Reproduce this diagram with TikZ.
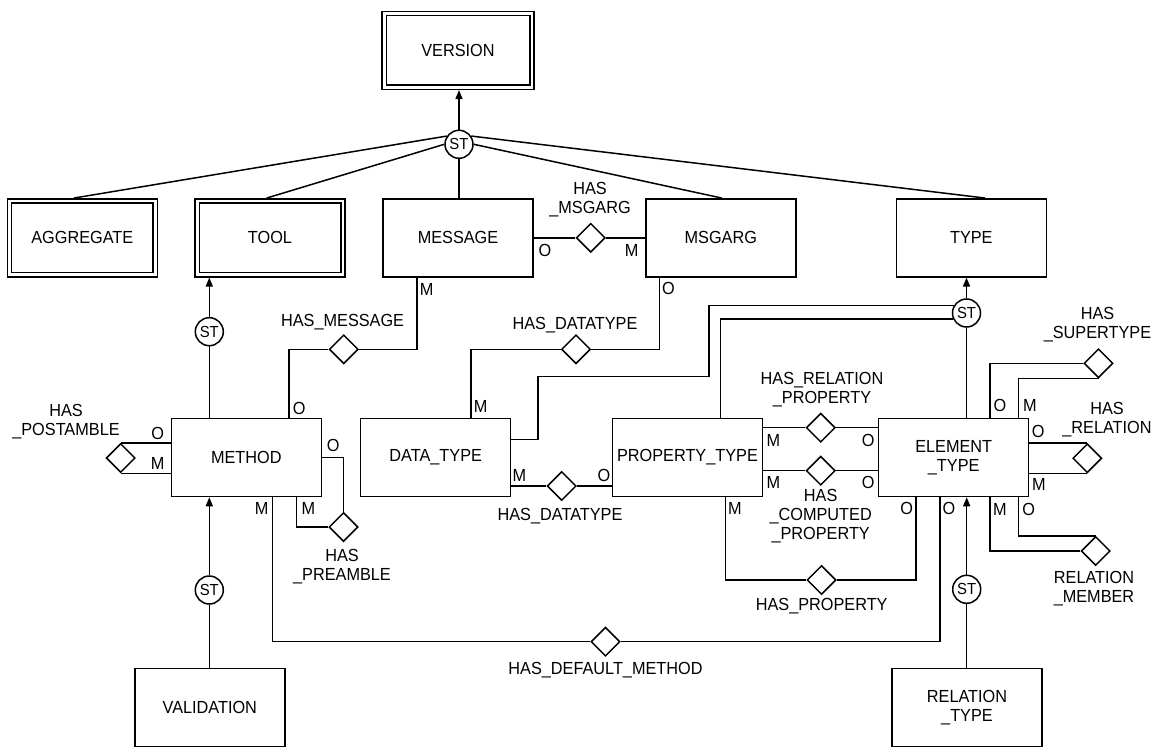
\documentclass[tikz,border=0pt]{standalone}
\usepackage{fontspec}
\setmainfont{Liberation Sans}[FakeStretch=0.93]
\usetikzlibrary{shapes.geometric,arrows.meta,calc}
\begin{document}
\begin{tikzpicture}[x=1pt,y=-1pt,
  every node/.style={font=\fontsize{17.5}{19}\selectfont},
  ent/.style={draw, line width=1.5pt, minimum width=150pt, minimum height=78pt, inner sep=0pt, align=center},
  rel/.style={draw, line width=1.5pt, diamond, aspect=1, minimum width=29pt, minimum height=29pt, inner sep=0pt},
  st/.style={draw, line width=1.5pt, circle, minimum size=28pt, inner sep=0pt, font=\fontsize{16}{18}\selectfont},
  lbl/.style={inner sep=0pt, align=center},
  conn/.style={line width=1.5pt},
  inner/.style={line width=1.5pt},
  isa/.style={line width=1.5pt, -{Triangle[width=7pt,length=9pt]}}
]
\useasboundingbox (0,0) rectangle (1157,749);

% entities
\node[ent, minimum width=152pt] (version) at (458,50.3) {VERSION};
\node[ent] (agg) at (82.3,237.8) {AGGREGATE};
\node[ent] (tool) at (270,237.8) {TOOL};
\node[ent] (message) at (458,237.8) {MESSAGE};
\node[ent] (msgarg) at (720.8,237.8) {MSGARG};
\node[ent] (type) at (971.3,237.8) {TYPE};
\node[ent] (method) at (246.3,457.5) {METHOD};
\node[ent] (dtype) at (435.7,457.5) {DATA\_TYPE};
\node[ent] (ptype) at (687.5,457.5) {PROPERTY\_TYPE};
\node[ent] (etype) at (953.7,457.5) {ELEMENT\\\_TYPE};
\node[ent] (valid) at (209.8,707.5) {VALIDATION};
\node[ent] (rtype) at (967,707.5) {RELATION\\\_TYPE};

% inner borders of the weak entities
\draw[inner] ([xshift=5pt,yshift=-5pt]version.north west) rectangle ([xshift=-5pt,yshift=5pt]version.south east);
\draw[inner] ([xshift=5pt,yshift=-5pt]agg.north west) rectangle ([xshift=-5pt,yshift=5pt]agg.south east);
\draw[inner] ([xshift=5pt,yshift=-5pt]tool.north west) rectangle ([xshift=-5pt,yshift=5pt]tool.south east);

% subtype circles
\node[st] (st1) at (459,144.3) {ST};
\node[st] (st2) at (209.3,331.7) {ST};
\node[st] (st3) at (209.3,590) {ST};
\node[st] (st4) at (966.5,313) {ST};
\node[st] (st5) at (966.7,589.3) {ST};

% relationships
\node[rel] (d1) at (590.7,237.8) {};
\node[rel] (d2) at (343.7,349.3) {};
\node[rel] (d3) at (576,349.3) {};
\node[rel] (d4) at (120.7,458) {};
\node[rel] (d5) at (343.5,527) {};
\node[rel] (d6) at (561.7,486) {};
\node[rel] (d7) at (820.7,427.7) {};
\node[rel] (d8) at (820.7,470.7) {};
\node[rel] (d9) at (821.5,580) {};
\node[rel] (d10) at (605.5,641.7) {};
\node[rel] (d11) at (1098.5,363.3) {};
\node[rel] (d12) at (1087.3,458.3) {};
\node[rel] (d13) at (1095.7,551) {};

% subtype connectors
\draw[isa] (st1.north) -- (st1.north |- version.south);
\draw[conn] (st1.146) -- ($(agg.north)+(-8.3,0)$);
\draw[conn] (st1.180) -- ($(tool.north)+(-3.3,0)$);
\draw[conn] (st1.south) -- (st1.south |- message.north);
\draw[conn] (st1.0) -- ($(msgarg.north)+(0.9,0)$);
\draw[conn] (st1.34) -- ($(type.north)+(13.7,0)$);

\draw[isa] (st2.north) -- (st2.north |- tool.south);
\draw[conn] (st2.south) -- (st2.south |- method.north);
\draw[isa] (st3.north) -- (st3.north |- method.south);
\draw[conn] (st3.south) -- (st3.south |- valid.north);

\draw[isa] (st4.north) -- (st4.north |- type.south);
\draw[conn] (st4.south) -- (st4.south |- etype.north);
\draw[conn] (st4.150) -| (709,376.7) -| ($(dtype.east)+(26.6,-18.2)$) -- ($(dtype.east)+(0,-18.2)$);
\draw[conn] (st4.205) -| ($(ptype.north)+(33,0)$);

\draw[isa] (st5.north) -- (st5.north |- etype.south);
\draw[conn] (st5.south) -- (st5.south |- rtype.north);

% relationship connectors
\draw[conn] (message.east) -- (d1.west);
\draw[conn] (d1.east) -- (msgarg.west);

\draw[conn] ($(method.north)+(42.6,0)$) |- (d2.west);
\draw[conn] (d2.east) -| ($(message.south)+(-41,0)$);

\draw[conn] ($(dtype.north)+(35.3,0)$) |- (d3.west);
\draw[conn] (d3.east) -| ($(msgarg.south)+(-61.3,0)$);

\draw[conn] (d4.north -| method.west) -- (d4.north);
\draw[conn] (d4.south -| method.west) -- (d4.south);

\draw[conn] (method.east) -| (d5.north);
\draw[conn] ($(method.south)+(50.4,0)$) |- (d5.west);

\draw[conn] (d6.west -| dtype.east) -- (d6.west);
\draw[conn] (d6.east) -- (d6.east -| ptype.west);

\draw[conn] (d7.west -| ptype.east) -- (d7.west);
\draw[conn] (d7.east) -- (d7.east -| etype.west);
\draw[conn] (d8.west -| ptype.east) -- (d8.west);
\draw[conn] (d8.east) -- (d8.east -| etype.west);

\draw[conn] ($(ptype.south)+(38.2,0)$) |- (d9.west);
\draw[conn] (d9.east) -| ($(etype.south)+(-37.7,0)$);

\draw[conn] ($(method.south)+(26.4,0)$) |- (d10.west);
\draw[conn] (d10.east) -| ($(etype.south)+(-13.7,0)$);

\draw[conn] ($(etype.north)+(36.3,0)$) |- (d11.west);
\draw[conn] ($(etype.north)+(65,0)$) |- (d11.south);

\draw[conn] (d12.north -| etype.east) -- (d12.north);
\draw[conn] (d12.south -| etype.east) -- (d12.south);

\draw[conn] ($(etype.south)+(65,0)$) |- (d13.north);
\draw[conn] ($(etype.south)+(36.3,0)$) |- (d13.west);

% relationship names
\node[lbl] (n1) at (590,199.7) {HAS\\\_MSGARG};
\node[lbl] (n2) at (342.6,322.3) {HAS\_MESSAGE};
\node[lbl] (n3) at (575,325) {HAS\_DATATYPE};
\node[lbl] (n4) at (66,421.2) {HAS\\\_POSTAMBLE};
\node[lbl] (n5) at (342,567) {HAS\\\_PREAMBLE};
\node[lbl] (n6) at (560,516) {HAS\_DATATYPE};
\node[lbl] (n7) at (822,390) {HAS\_RELATION\\\_PROPERTY};
\node[lbl] (n8) at (820.7,516) {HAS\\\_COMPUTED\\\_PROPERTY};
\node[lbl] (n9) at (821.7,606) {HAS\_PROPERTY};
\node[lbl] (n10) at (605.5,670) {HAS\_DEFAULT\_METHOD};
\node[lbl] (n11) at (1097.5,325) {HAS\\\_SUPERTYPE};
\node[lbl] (n12) at (1107,420) {HAS\\\_RELATION};
\node[lbl] (n13) at (1094,588.3) {RELATION\\\_MEMBER};

% cardinalities
\node[lbl] (c1) at (545,250.7) {O};
\node[lbl] (c2) at (631.7,250.7) {M};
\node[lbl] (c3) at (426.7,289) {M};
\node[lbl] (c4) at (299.3,408.3) {O};
\node[lbl] (c5) at (668.5,288) {O};
\node[lbl] (c6) at (480.7,406.7) {M};
\node[lbl] (c7) at (157.7,433.3) {O};
\node[lbl] (c8) at (157.7,463.3) {M};
\node[lbl] (c9) at (333.3,445) {O};
\node[lbl] (c10) at (261.7,508.3) {M};
\node[lbl] (c11) at (308.3,508.3) {M};
\node[lbl] (c12) at (519.3,475) {M};
\node[lbl] (c13) at (604,475) {O};
\node[lbl] (c14) at (773.3,440) {M};
\node[lbl] (c15) at (868.3,440) {O};
\node[lbl] (c16) at (773.3,482.7) {M};
\node[lbl] (c17) at (868.3,482.7) {O};
\node[lbl] (c18) at (735,508) {M};
\node[lbl] (c19) at (906.7,508.3) {O};
\node[lbl] (c20) at (949,508.3) {O};
\node[lbl] (c21) at (1000,509.3) {M};
\node[lbl] (c22) at (1028.7,509.3) {O};
\node[lbl] (c23) at (1038.3,431.7) {O};
\node[lbl] (c24) at (1039,484.3) {M};
\node[lbl] (c25) at (1000,405.3) {O};
\node[lbl] (c26) at (1030,405.3) {M};
\end{tikzpicture}
\end{document}
